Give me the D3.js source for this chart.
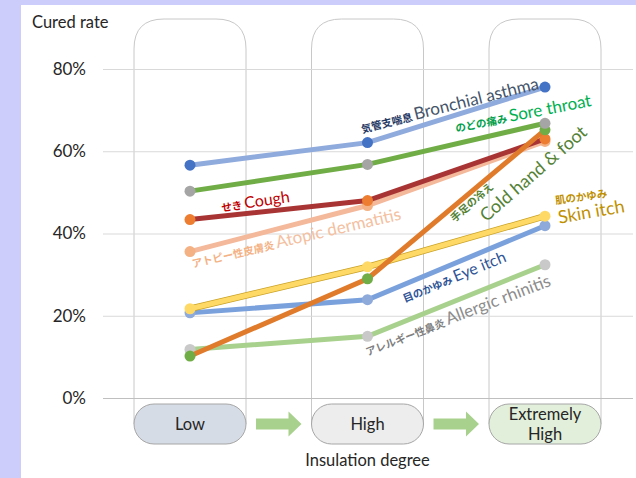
<!DOCTYPE html>
<html>
<head>
<meta charset="utf-8">
<script src="https://cdn.jsdelivr.net/npm/d3@7"></script>
<style>
  html, body { margin: 0; padding: 0; background: #cdcdfc; }
  svg { display: block; }
  text { font-family: Lato, "Noto Sans CJK JP", sans-serif; }
</style>
</head>
<body>
<svg id="chart"></svg>
<script>
// data (cured rate in %)
const levels = ['Low', 'High', 'Extremely High']
const asthma = [56.6, 62.1, 75.6]
const soreThroat = [50.3, 56.8, 66.8]
const cough = [43.4, 48.0, 63.0]
const atopic = [35.6, 46.8, 62.4]
const skinItch = [21.7, 31.9, 44.2]
const eyeItch = [20.7, 23.9, 41.9]
const rhinitis = [11.8, 15.0, 32.4]
const coldHandFoot = [10.2, 29.0, 65.2]
const yTicks = [0, 20, 40, 60, 80]

const width = 636
const height = 478

// series styling: line colour + marker colour (like the excel original)
const series = [
  { name: 'rhinitis', values: rhinitis, line: '#a9d18e', dot: '#c9c9c9' },
  { name: 'eye', values: eyeItch, line: '#7ba1dc', dot: '#8eaadb' },
  { name: 'skin', values: skinItch, line: '#ffd966', dot: '#ffd966', outline: '#c9a227' },
  { name: 'atopic', values: atopic, line: '#f4b89a', dot: '#f4b183' },
  { name: 'cough', values: cough, line: '#a93434', dot: '#ed7d31' },
  { name: 'cold', values: coldHandFoot, line: '#e07b2c', dot: '#70ad47' },
  { name: 'sore', values: soreThroat, line: '#70ad47', dot: '#a5a5a5' },
  { name: 'asthma', values: asthma, line: '#8faadc', dot: '#4472c4' }
]

const svg = d3.select('#chart').attr('width', width).attr('height', height)

// white panel
svg.append('rect').attr('x', 21).attr('y', 5).attr('width', width - 21).attr('height', height - 5).attr('fill', '#fff')

const x = d3.scalePoint().domain(levels).range([190, 545])
const xi = d3.scaleLinear().domain([0, 2]).range([190, 545]) // for label anchors
const y = d3.scaleLinear().domain([0, 80]).range([398, 69])

const colW = 112
const colTop = 19
const pillTop = 404
const pillH = 40
const fs = 16.5

// rounded-top column boxes
const r = 30
svg.append('g').selectAll('path').data(levels).enter().append('path')
  .attr('d', d => {
    const x0 = x(d) - colW / 2, x1 = x(d) + colW / 2, yb = pillTop + pillH / 2
    return `M${x0},${yb} L${x0},${colTop + r} Q${x0},${colTop} ${x0 + r},${colTop} L${x1 - r},${colTop} Q${x1},${colTop} ${x1},${colTop + r} L${x1},${yb}`
  })
  .attr('fill', 'none').attr('stroke', '#c8c8c8').attr('stroke-width', 1)

// y axis
const yAxis = d3.axisLeft(y).tickValues(yTicks).tickSize(-(633 - 103)).tickFormat(d => d + '%')
const yg = svg.append('g').attr('transform', 'translate(103,0)').call(yAxis)
yg.select('.domain').remove()
yg.selectAll('.tick line').attr('stroke', d => d === 0 ? '#bfbfbf' : '#d9d9d9')
yg.selectAll('.tick text').attr('x', -17).attr('font-size', 17).attr('fill', '#262626')
  .style('font-family', 'Lato, sans-serif')

svg.append('text').text('Cured rate').attr('x', 32).attr('y', 28).attr('font-size', fs).attr('fill', '#262626')

// lines and markers
const line = d3.line().x((d, i) => x(levels[i])).y(d => y(d))
series.forEach(s => {
  const g = svg.append('g')
  if (s.outline) {
    g.append('path').attr('d', line(s.values)).attr('fill', 'none').attr('stroke', s.outline).attr('stroke-width', 6.5)
  }
  g.append('path').attr('d', line(s.values)).attr('fill', 'none').attr('stroke', s.line).attr('stroke-width', 5)
    .attr('stroke-linecap', 'round')
  g.selectAll('circle').data(s.values).enter().append('circle')
    .attr('cx', (d, i) => x(levels[i])).attr('cy', d => y(d)).attr('r', 5.5).attr('fill', s.dot)
})

// series labels: anchor in (level index, %) + rotation
const labels = [
  { jp: '気管支喘息', en: 'Bronchial asthma', t: 0.97, v: 64.4, rot: -14, c: '#44546a', cj: '#1f3864', fs: 17 },
  { jp: 'のどの痛み', en: 'Sore throat', t: 1.5, v: 64.6, rot: -11, c: '#00b050', cj: '#00a04a', fs: 17 },
  { jp: 'せき', en: 'Cough', t: 0.18, v: 45.3, rot: -8, c: '#c00000', cj: '#c00000', fs: 16 },
  { jp: 'アトピー性皮膚炎', en: 'Atopic dermatitis', t: 0.017, v: 31.7, rot: -13, c: '#f4c0a0', cj: '#f4b183', fs: 17 },
  { jp: '目のかゆみ', en: 'Eye itch', t: 1.21, v: 23.2, rot: -22, c: '#2f5597', cj: '#2f5597', fs: 16 },
  { jp: 'アレルギー性鼻炎', en: 'Allergic rhinitis', t: 1.0, v: 10.2, rot: -21, c: '#8c8c8c', cj: '#7f7f7f', fs: 17 }
]

labels.forEach(l => {
  const px = xi(l.t), py = y(l.v)
  const txt = svg.append('text').attr('transform', `translate(${px},${py}) rotate(${l.rot})`)
  txt.append('tspan').text(l.jp + ' ').attr('font-size', 10.5).attr('font-weight', 'bold').attr('fill', l.cj)
    .style('font-family', '"Noto Sans CJK JP", sans-serif')
  txt.append('tspan').text(l.en).attr('font-size', l.fs).attr('fill', l.c)
})

// cold hand & foot: two separate rotated pieces
svg.append('text').text('手足の冷え')
  .attr('transform', `translate(${xi(1.49)},${y(42.7)}) rotate(-41)`)
  .attr('font-size', 10.5).attr('font-weight', 'bold').attr('fill', '#548235')
  .style('font-family', '"Noto Sans CJK JP", sans-serif')
svg.append('text').text('Cold hand & foot')
  .attr('transform', `translate(${xi(1.67)},${y(42.7)}) rotate(-41)`)
  .attr('font-size', 18).attr('fill', '#548235')

// skin itch: jp above english
svg.append('text').text('肌のかゆみ')
  .attr('transform', `translate(${xi(2.06)},${y(47.1)}) rotate(-8)`)
  .attr('font-size', 10.5).attr('font-weight', 'bold').attr('fill', '#bf9000')
  .style('font-family', '"Noto Sans CJK JP", sans-serif')
svg.append('text').text('Skin itch')
  .attr('transform', `translate(${xi(2.08)},${y(42.4)}) rotate(-10)`)
  .attr('font-size', 18).attr('fill', '#bf9000')

// category pills
const pillFill = ['#d6dce5', '#ededed', '#e2efda']
const pills = svg.append('g').selectAll('g').data(levels).enter().append('g')
pills.append('rect')
  .attr('x', d => x(d) - colW / 2).attr('y', pillTop).attr('width', colW).attr('height', pillH)
  .attr('rx', pillH / 2).attr('fill', (d, i) => pillFill[i]).attr('stroke', '#a6a6a6').attr('stroke-width', 1)
pills.each(function (d) {
  const words = d === 'Extremely High' ? ['Extremely', 'High'] : [d]
  const t = d3.select(this).append('text').attr('text-anchor', 'middle').attr('font-size', fs).attr('fill', '#262626')
  words.forEach((w, i) => {
    t.append('tspan').text(w).attr('x', x(d))
      .attr('y', pillTop + pillH / 2 + 5.5 + (words.length > 1 ? (i - 0.5) * 20 : 0))
  })
})

// green arrows between pills
const arrowY = pillTop + pillH / 2
for (let i = 0; i < levels.length - 1; i++) {
  const x0 = x(levels[i]) + colW / 2 + 10
  const x1 = x(levels[i + 1]) - colW / 2 - 10
  const hl = 13
  svg.append('path')
    .attr('d', `M${x0},${arrowY - 5.5} L${x1 - hl},${arrowY - 5.5} L${x1 - hl},${arrowY - 12.5} L${x1},${arrowY} L${x1 - hl},${arrowY + 12.5} L${x1 - hl},${arrowY + 5.5} L${x0},${arrowY + 5.5} Z`)
    .attr('fill', '#a9d18e')
}

svg.append('text').text('Insulation degree').attr('x', x('High')).attr('y', 466)
  .attr('text-anchor', 'middle').attr('font-size', fs).attr('fill', '#262626')
</script>
</body>
</html>
